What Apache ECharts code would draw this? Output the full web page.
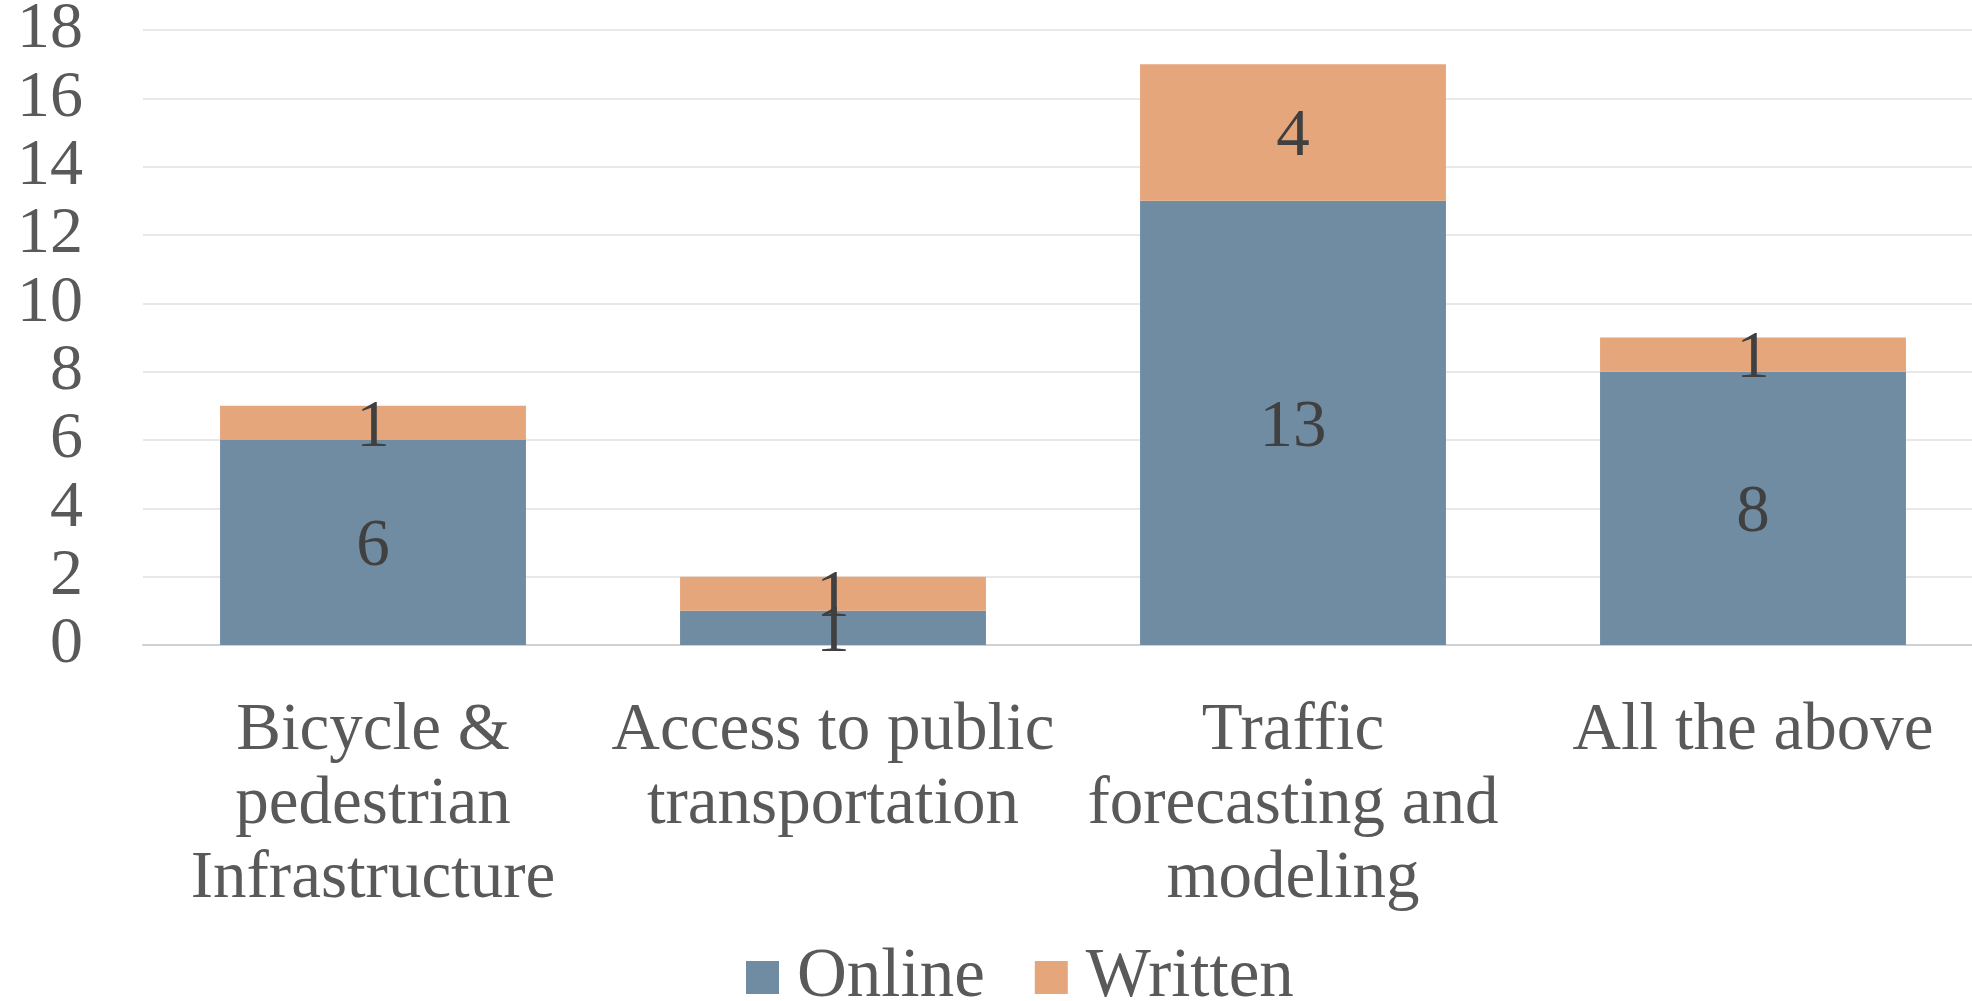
<!DOCTYPE html>
<html>
<head>
<meta charset="utf-8">
<script src="https://cdn.jsdelivr.net/npm/echarts@6/dist/echarts.min.js"></script>
<style>
html,body{margin:0;padding:0;background:#fff;overflow:hidden;}
#c{width:1972px;height:1001px;}
</style>
</head>
<body>
<div id="c"></div>
<script>
const categories = ["Bicycle &\npedestrian\nInfrastructure", "Access to public\ntransportation", "Traffic\nforecasting and\nmodeling", "All the above"];
const online = [6, 1, 13, 8];
const written = [1, 1, 4, 1];
const yTicks = {min: 0, max: 18, interval: 2};

const FONT = '"Liberation Serif", serif';
const chart = echarts.init(document.getElementById('c'));
chart.setOption({
  animation: false,
  backgroundColor: '#fff',
  grid: {left: 143, width: 1840, top: 30, bottom: 356, containLabel: false, outerBoundsMode: 'none'},
  legend: {
    data: ['Online', 'Written'],
    top: 938, left: 741,
    itemWidth: 33, itemHeight: 33, itemGap: 50,
    icon: 'rect',
    textStyle: {fontFamily: FONT, fontSize: 69, color: '#595959', padding: [0,0,0,13]}
  },
  xAxis: {
    type: 'category',
    data: categories,
    axisLine: {lineStyle: {color: '#d0d0d0', width: 2}},
    axisTick: {show: false},
    axisLabel: {fontFamily: FONT, fontSize: 67, color: '#595959', lineHeight: 74, margin: 49, interval: 0}
  },
  yAxis: {
    type: 'value',
    min: yTicks.min, max: yTicks.max, interval: yTicks.interval,
    axisLine: {show: false},
    axisTick: {show: false},
    splitLine: {lineStyle: {color: '#e8e8e8', width: 2}},
    axisLabel: {fontFamily: FONT, fontSize: 66, color: '#595959', margin: 60}
  },
  series: [
    {
      name: 'Online', type: 'bar', stack: 'a', data: online, barWidth: '66.5%',
      itemStyle: {color: '#708ca3'},
      label: {show: true, position: 'inside', offset: [0, 5], fontFamily: FONT, fontSize: 67, color: '#404040'}
    },
    {
      name: 'Written', type: 'bar', stack: 'a', data: written, barWidth: '66.5%',
      itemStyle: {color: '#e6a67c'},
      label: {show: true, position: 'inside', offset: [0, 5], fontFamily: FONT, fontSize: 67, color: '#404040'}
    }
  ]
});
</script>
</body>
</html>
